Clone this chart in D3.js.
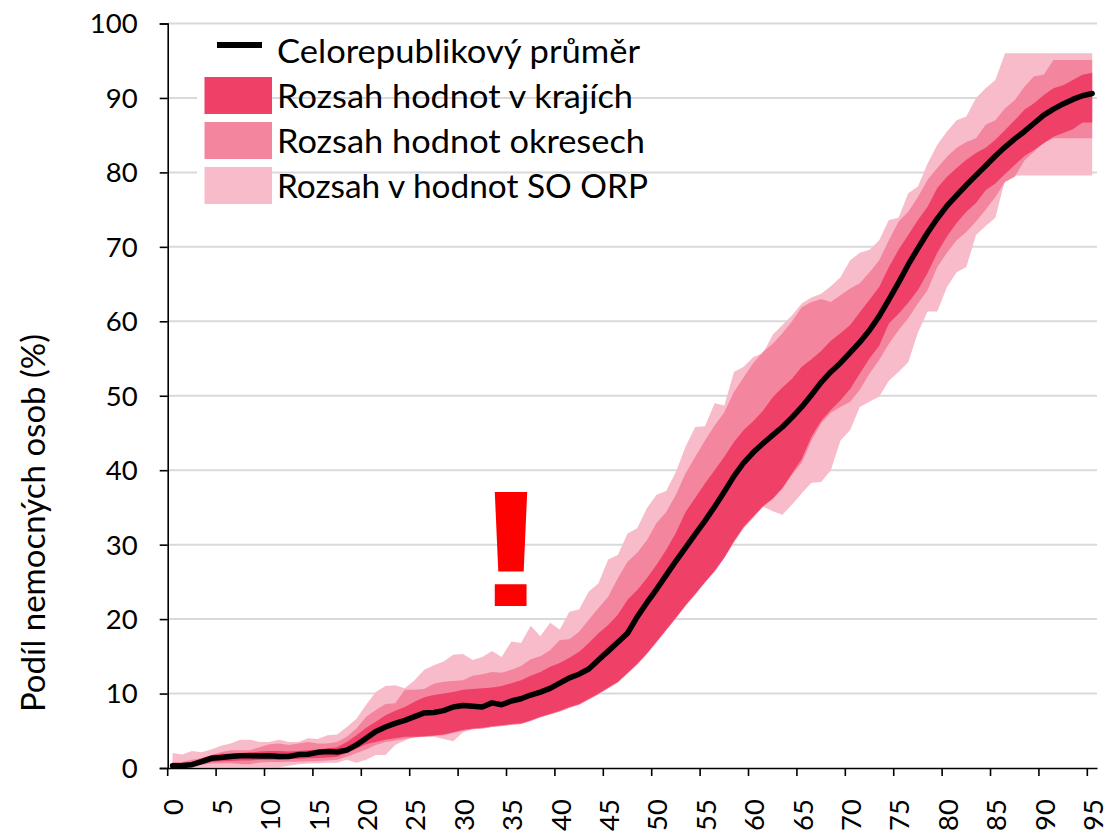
<!DOCTYPE html>
<html lang="cs">
<head>
<meta charset="utf-8">
<script src="https://d3js.org/d3.v7.min.js"></script>
<style>
html,body{margin:0;padding:0;background:#fff;overflow:hidden}
text{font-family:Lato,"Open Sans",sans-serif;fill:#000}
</style>
</head>
<body>
<svg id="c" width="1104" height="832"></svg>
<script>
const ages = d3.range(0, 96);
const xTickLabels = d3.range(0, 100, 5);
const yTickLabels = d3.range(0, 110, 10);
const legendLabels = ["Celorepublikový průměr", "Rozsah hodnot v krajích", "Rozsah hodnot okresech", "Rozsah v hodnot SO ORP"];
const yTitle = "Podíl nemocných osob (%)";

const meanValues = [.3,.35,.45,.85,1.3,1.4,1.55,1.65,1.65,1.6,1.65,1.55,1.55,1.8,1.85,2.1,2.2,2.15,2.4,3.1,
4,4.9,5.5,6,6.4,6.9,7.4,7.45,7.7,8.2,8.4,8.3,8.2,8.75,8.5,9,9.3,9.8,10.2,10.7,
11.4,12.1,12.6,13.3,14.5,15.7,16.9,18.1,20.3,22.2,24,25.9,27.8,29.6,31.4,33.2,35.1,37.1,39.2,41,
42.4,43.6,44.7,45.8,47.1,48.5,50.1,51.8,53.2,54.4,55.8,57.2,58.8,60.7,62.9,65.2,67.6,69.8,71.9,73.8,
75.5,76.9,78.3,79.6,80.9,82.2,83.4,84.5,85.5,86.6,87.7,88.5,89.2,89.8,90.3,90.6];

const krajUpper = [.5,.6,.8,1.3,1.7,1.9,1.95,2,2.1,2.2,2.3,2.3,2.2,2.3,2.4,2.5,2.65,2.8,3.5,4.4,
5.4,6.2,7.1,7.7,8.2,8.9,9.5,9.8,10,10.2,10.5,10.6,10.7,10.8,11,11.4,11.8,12.4,12.9,13.6,
14.1,14.8,15.6,16.8,18.1,19.2,20.6,22.6,23.9,25.5,27.3,29.3,31.6,34.4,36.3,38.2,40,41.8,43.8,45.4,
46.6,48,49.8,51.1,52.3,53.9,54.9,56,57.4,58.4,59.5,61.2,62.9,64.6,67.3,69.6,71.6,73.6,75.4,77.9,
79.4,80.6,81.7,82.6,83.3,84.4,85.7,87,88.4,89.3,90.4,91.3,91.7,92.4,93.1,93.4];
const krajLower = [.1,.2,.3,.5,.8,.9,.95,1,1,1.1,1.1,1.1,1.2,1.2,1.3,1.35,1.4,1.5,2,2.6,
3.2,3.5,3.8,4,4.2,4.2,4.25,4.35,4.5,4.8,5.1,5.3,5.4,5.6,5.75,5.9,6,6.4,6.9,7.3,
7.7,8.2,8.6,9.3,10,10.8,11.6,12.8,14,15.4,17,18.6,20.2,21.9,23.4,25,26.5,28.3,30.5,32.4,
33.8,35.2,36.2,37.6,39.6,41.5,44.5,46.6,48.1,49.4,50.9,53,55,56.7,59.7,61,62.5,64.2,66.5,69.2,
71.4,73.2,74.7,75.9,77.6,78.5,79.8,81,82.2,83,83.9,84.8,85.3,85.8,86.7,86.7];

const okresUpper = [.8,.8,1.1,1.3,1.75,2.1,2.4,2.4,2.4,2.8,3.2,3.3,3.1,3.3,3.5,3.3,3.3,3.5,4.2,5.3,
6.9,7.8,8.6,8.7,10.5,10.5,10.6,11.3,11.6,11.7,11.8,12.4,12.6,12.9,12.8,13.2,13.7,14.6,15,15.8,
17.2,17.3,18.3,19.9,21.5,23,25.5,27.7,28.9,30.6,32.9,34.4,36.7,39.6,41.8,44,46,47.8,50.5,52.5,
54.4,55.9,57,58.4,60,61.9,62.6,63,62.6,63.5,64.4,65.1,66.6,68.2,70.9,73.4,74.7,76.7,79,80.6,
82.1,83.3,84.1,84.6,86.4,87,88.6,89.7,91.5,92.9,93.1,95.1,95.1,95.1,95.1,95.1];
const okresLower = [.1,.2,.3,.4,.6,.65,.65,.55,.5,.75,.8,.8,.85,.85,.9,.95,1,1.1,1.5,2,
2.5,3.1,3.5,3.7,3.9,4.1,4.2,4.3,4.4,4.7,5,5.2,5.3,5.5,5.65,5.8,5.9,6.3,6.8,7.2,
7.6,8.1,8.5,9.2,9.9,10.7,11.5,12.7,13.9,15.3,16.9,18.5,20.1,21.8,23.3,24.9,26.4,28.2,30.4,32.3,
33.7,35.1,36.1,37.5,39.4,41,44,46.3,47.7,48.5,49.2,50.8,53,54.8,57,58.8,60.4,62.4,64.2,67.3,
69.2,70.9,72,73.4,75,76.7,78.7,79.4,81.6,82.8,84,84.6,84.6,84.6,84.6,84.6];

const orpUpper = [2,1.8,2.3,2.1,2.5,3,3.3,3.8,3.8,3.5,3.5,3.8,3.5,3.5,4,3.9,4.4,4.5,5.5,6.6,
8.5,10.2,11,11.1,10.7,11.8,13.2,13.8,14.3,15.2,15.3,14.5,14.9,15.7,14.9,17,16.8,19.1,17.7,19.5,
18.6,21,21.3,23.7,24.8,28,28.6,31.5,32.2,34.9,36.7,37.2,39.8,43.2,45.8,45.9,49,48.7,53.2,53.9,
55.2,55.7,58.2,59.5,60.8,62.4,63.2,63.7,64.7,65.9,68.2,69.2,69.6,70.9,73.6,73.9,77.2,78.1,81.2,83.7,
85.5,87,87.5,90,91.3,92.4,96,96,96,96,96,96,96,96,96,96];
const orpLower = [0,0,.1,.1,.1,.1,.1,.1,.1,.1,.1,.1,.3,.5,.6,.65,.7,.7,1.1,.7,
1.1,1.75,1.75,3.1,3.7,4.3,4.2,4.2,3.9,3.6,4.8,5.2,5.3,5.5,5.65,5.8,5.9,6.3,6.8,7.2,
7.6,8.1,8.5,9.2,9.9,10.7,11.5,12.7,13.9,15.3,16.9,18.5,20.1,21.8,23.3,24.9,26.4,28.2,30.3,32.2,
33.6,35.1,34.5,34,35.4,36.9,38.3,38.4,40,44,45.4,48.5,49.2,49.9,52,53.2,54.5,58.5,61.3,61.3,
64.6,66.6,67.3,71.6,72.8,73.9,79,79.6,79.6,79.6,79.6,79.6,79.6,79.6,79.6,79.6];

const colorKraj = "#EF4167", colorOkres = "#F4859F", colorOrp = "#F8BBCA";

const svg = d3.select("#c");
const x = d3.scaleBand().domain(ages).range([167.7, 1097]);
const cx = a => x(a) + x.bandwidth() / 2;
const y = d3.scaleLinear().domain([0, 100]).range([768, 23.5]);

// grid
svg.append("g").selectAll("line").data(yTickLabels.filter(d => d > 0)).join("line")
  .attr("x1", 168).attr("x2", 1097).attr("y1", d => y(d)).attr("y2", d => y(d))
  .attr("stroke", "#D9D9D9").attr("stroke-width", 2);

// bands
const area = (up, lo) => d3.area().x(a => cx(a)).y0((a, i) => y(lo[i])).y1((a, i) => y(up[i]))(ages);
[[orpUpper, orpLower, colorOrp], [okresUpper, okresLower, colorOkres], [krajUpper, krajLower, colorKraj]]
  .forEach(([u, l, c]) => svg.append("path").attr("d", area(u, l)).attr("fill", c));

// axes
const yAxis = svg.append("g").attr("transform", "translate(167.7,0)")
  .call(d3.axisLeft(y).tickValues(yTickLabels).tickSize(8).tickPadding(22));
const xAxis = svg.append("g").attr("transform", "translate(0,768)")
  .call(d3.axisBottom(x).tickValues(xTickLabels).tickSize(8).tickSizeOuter(0));
[yAxis, xAxis].forEach(g => {
  g.selectAll("path.domain").attr("stroke", "#000").attr("stroke-width", 1.6);
  g.selectAll("line").attr("stroke", "#000").attr("stroke-width", 1.6);
  g.selectAll("text").style("font-family", "Lato").style("font-size", "27.5px").attr("fill", "#000");
});
xAxis.selectAll(".tick line").attr("transform", `translate(${-x.bandwidth() / 2},0)`);
xAxis.selectAll(".tick text").attr("transform", "rotate(-90)")
  .attr("text-anchor", "end").attr("x", -31).attr("y", 1).attr("dy", ".36em");
yAxis.selectAll(".tick text").attr("dy", ".34em");

// mean line
svg.append("path")
  .attr("d", d3.line().x(a => cx(a)).y((a, i) => y(meanValues[i]))(ages))
  .attr("fill", "none").attr("stroke", "#000").attr("stroke-width", 5.5)
  .attr("stroke-linecap", "round").attr("stroke-linejoin", "round");

// y title
svg.append("text").attr("transform", "translate(45,523) rotate(-90)")
  .attr("text-anchor", "middle").style("font-size", "33px").text(yTitle);

// legend
const lg = svg.append("g");
lg.append("line").attr("x1", 217).attr("x2", 262).attr("y1", 45).attr("y2", 45)
  .attr("stroke", "#000").attr("stroke-width", 6);
[[colorKraj, 77], [colorOkres, 122], [colorOrp, 167]].forEach(([c, t]) => {
  lg.append("rect").attr("x", 197).attr("y", t).attr("width", 75).attr("height", 37).attr("fill", "#fff");
  lg.append("rect").attr("x", 204.5).attr("y", t).attr("width", 67.5).attr("height", 37).attr("fill", c);
});
const legendTextWidths = [363, 356, 368, 371];
legendLabels.forEach((t, i) => {
  lg.append("text").attr("x", 277).attr("y", 63 + i * 45)
    .attr("textLength", legendTextWidths[i]).attr("lengthAdjust", "spacingAndGlyphs")
    .style("font-size", "33px").text(t);
});

// exclamation mark
svg.append("text").attr("transform", "translate(511,606) scale(1.36,1)").attr("text-anchor", "middle")
  .style("font-family", "'Liberation Sans'").style("font-weight", "700").style("font-size", "166px")
  .style("fill", "#FF0000").text("!");
</script>
</body>
</html>
